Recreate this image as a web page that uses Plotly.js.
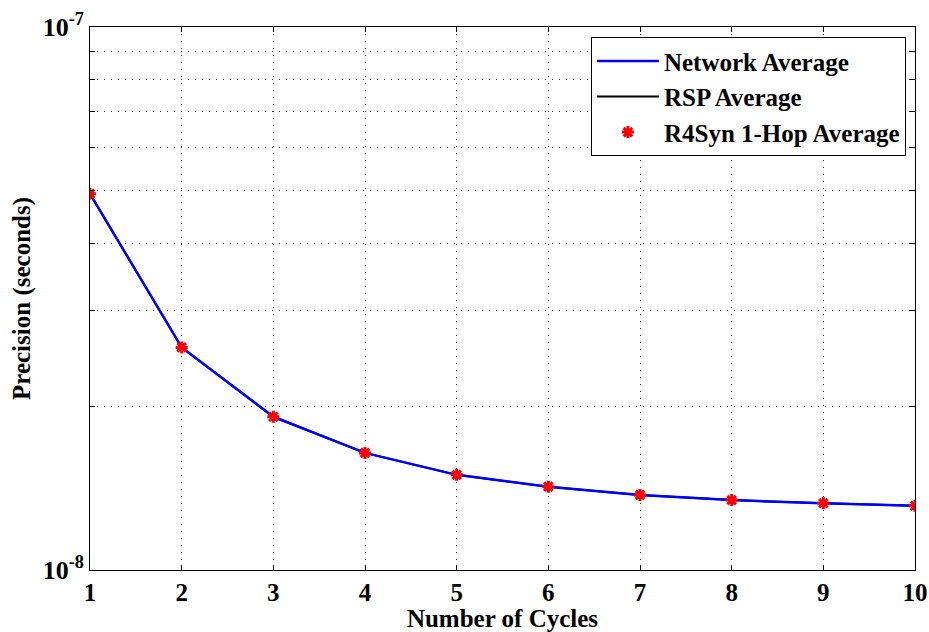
<!DOCTYPE html>
<html>
<head>
<meta charset="utf-8">
<script src="https://cdn.plot.ly/plotly-3.0.1.min.js"></script>
<style>html,body{margin:0;padding:0;background:#fff;}#chart{width:929px;height:632px;}</style>
</head>
<body>
<div id="chart"></div>
<script>
const cycles = [1, 2, 3, 4, 5, 6, 7, 8, 9, 10];
const networkAvg = [4.93e-8, 2.57e-8, 1.915e-8, 1.643e-8, 1.497e-8, 1.424e-8, 1.375e-8, 1.345e-8, 1.327e-8, 1.313e-8];
const rspAvg = [4.93e-8, 2.57e-8, 1.915e-8, 1.643e-8, 1.497e-8, 1.424e-8, 1.375e-8, 1.345e-8, 1.327e-8, 1.313e-8];
const r4synAvg = [4.93e-8, 2.57e-8, 1.915e-8, 1.643e-8, 1.497e-8, 1.424e-8, 1.375e-8, 1.345e-8, 1.327e-8, 1.313e-8];
const yTickVals = [1e-8, 2e-8, 3e-8, 4e-8, 5e-8, 6e-8, 7e-8, 8e-8, 9e-8, 1e-7];
const yTickText = ['10<sup>-8</sup>', '', '', '', '', '', '', '', '', '10<sup>-7</sup>'];
const xTickVals = [1, 2, 3, 4, 5, 6, 7, 8, 9, 10];

const fontFam = '"Liberation Serif", "DejaVu Serif", serif';

const traces = [
  {x: cycles, y: rspAvg, name: 'RSP Average', mode: 'lines', line: {color: '#000000', width: 2}, legendrank: 2},
  {x: cycles, y: networkAvg, name: 'Network Average', mode: 'lines', line: {color: '#0000ff', width: 2.5}, legendrank: 1},
  {x: cycles, y: r4synAvg, name: 'R4Syn 1-Hop Average', mode: 'markers',
   marker: {symbol: 'asterisk-open', color: '#ff0000', size: 10, line: {color: '#ff0000', width: 3}}, legendrank: 3}
];

const layout = {
  width: 929, height: 632,
  margin: {l: 90, r: 14, t: 27, b: 62},
  paper_bgcolor: '#ffffff', plot_bgcolor: '#ffffff',
  font: {family: fontFam, color: '#000000', size: 24, weight: 'bold'},
  showlegend: true,
  legend: {
    x: 0.989, y: 0.981, xanchor: 'right', yanchor: 'top',
    bgcolor: '#ffffff', bordercolor: '#000000', borderwidth: 1,
    font: {family: fontFam, size: 25, color: '#000000', weight: 'bold'},
    itemwidth: 62, tracegroupgap: 0
  },
  xaxis: {
    range: [1, 10], tickvals: xTickVals,
    showline: true, linecolor: '#000000', linewidth: 1, mirror: 'ticks',
    ticks: 'inside', ticklen: 5, tickcolor: '#000000',
    showgrid: true, gridcolor: '#333333', griddash: '1px,6px', gridwidth: 1,
    zeroline: false,
    tickfont: {family: fontFam, size: 25, weight: 'bold'},
    title: {text: 'Number of Cycles', font: {family: fontFam, size: 25, weight: 'bold'}, standoff: 3}
  },
  yaxis: {
    type: 'log', range: [-8, -7], tickvals: yTickVals, ticktext: yTickText,
    showline: true, linecolor: '#000000', linewidth: 1, mirror: 'ticks',
    ticks: 'inside', ticklen: 5, tickcolor: '#000000',
    showgrid: true, gridcolor: '#333333', griddash: '1px,6px', gridwidth: 1,
    zeroline: false,
    tickfont: {family: fontFam, size: 26, weight: 'bold'},
    title: {text: 'Precision (seconds)', font: {family: fontFam, size: 25, weight: 'bold'}, standoff: 4}
  }
};

Plotly.newPlot('chart', traces, layout, {displayModeBar: false, staticPlot: true});
</script>
</body>
</html>
